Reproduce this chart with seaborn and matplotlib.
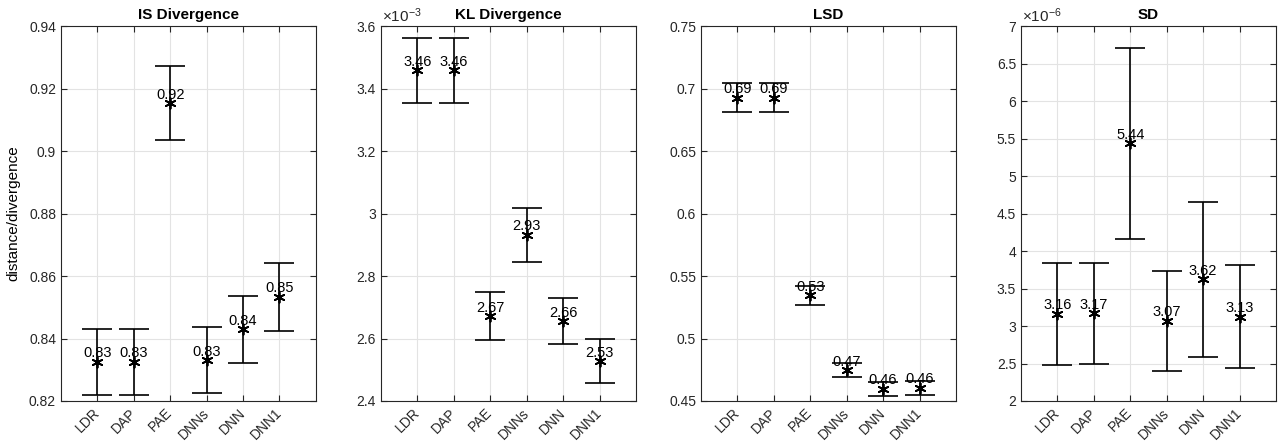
import numpy as np
import matplotlib
matplotlib.use('Agg')
import matplotlib.pyplot as plt
import matplotlib.ticker as mticker
import seaborn as sns

# Data
methods = ['LDR', 'DAP', 'PAE', 'DNNs', 'DNN', 'DNN1']

is_mean = [0.8326, 0.8326, 0.9153, 0.8331, 0.8429, 0.8534]
is_err = [0.0106, 0.0106, 0.0118, 0.0107, 0.0107, 0.0109]

kl_mean = [3.459e-3, 3.459e-3, 2.672e-3, 2.932e-3, 2.656e-3, 2.528e-3]
kl_err = [0.104e-3, 0.104e-3, 0.076e-3, 0.087e-3, 0.075e-3, 0.071e-3]

lsd_mean = [0.6927, 0.6927, 0.5345, 0.4745, 0.4596, 0.4607]
lsd_err = [0.0116, 0.0116, 0.0079, 0.0057, 0.0055, 0.0056]

sd_mean = [3.164e-6, 3.169e-6, 5.436e-6, 3.071e-6, 3.622e-6, 3.126e-6]
sd_err = [0.678e-6, 0.676e-6, 1.276e-6, 0.667e-6, 1.036e-6, 0.682e-6]

panels = [
    ('IS Divergence', is_mean, is_err, 1, (0.82, 0.94), 0.02),
    ('KL Divergence', kl_mean, kl_err, 1e-3, (2.4e-3, 3.6e-3), 0.2e-3),
    ('LSD', lsd_mean, lsd_err, 1, (0.45, 0.75), 0.05),
    ('SD', sd_mean, sd_err, 1e-6, (2e-6, 7e-6), 0.5e-6),
]

sns.set_theme(style='white')
plt.rcParams['font.family'] = ['Liberation Sans', 'DejaVu Sans']
plt.rcParams['mathtext.fontset'] = 'custom'
plt.rcParams['mathtext.rm'] = 'Liberation Sans'
plt.rcParams['mathtext.it'] = 'Liberation Sans'

grey = '#262626'
fig = plt.figure(figsize=(12.78, 4.42), dpi=100)

for i, (title, mean, err, scale, ylim, step) in enumerate(panels):
    ax = fig.add_axes([0.0477 + i * 0.2504, 0.0928, 0.1995, 0.848])
    x = np.arange(len(methods))
    ax.errorbar(x, mean, yerr=err, fmt='none', ecolor='black', elinewidth=1.2,
                capsize=11, capthick=1.2, zorder=3)
    sns.scatterplot(x=x, y=mean, marker=(6, 2, 0), color='black', s=55,
                    linewidth=1.3, edgecolor='black', ax=ax, zorder=4)
    for xi, m in zip(x, mean):
        ax.text(xi, m + (ylim[1] - ylim[0]) * 0.004, f'{m / scale:.2f}',
                ha='center', va='bottom', fontsize=10.5, color='black', zorder=5)

    ax.set_xlim(-1, 6)
    ax.set_ylim(*ylim)
    ax.set_xticks(x)
    ax.set_xticklabels(methods, rotation=45, ha='right', va='center',
                       rotation_mode='anchor')
    ax.yaxis.set_major_locator(mticker.MultipleLocator(step))
    if scale != 1:
        ax.yaxis.set_major_formatter(
            mticker.FuncFormatter(lambda v, p, s=scale: f'{v / s:g}'))
        exp = int(round(np.log10(scale)))
        ax.text(0.005, 1.004, r'$\times10^{%d}$' % exp, transform=ax.transAxes,
                ha='left', va='bottom', fontsize=11, color=grey)
    else:
        ax.yaxis.set_major_formatter(mticker.FuncFormatter(lambda v, p: f'{v:g}'))

    ax.grid(True, color='#e3e3e3', linewidth=0.8)
    ax.set_axisbelow(True)
    for sp in ax.spines.values():
        sp.set_color(grey)
        sp.set_linewidth(0.8)
    ax.tick_params(axis='both', which='both', direction='in', length=4,
                   colors=grey, labelsize=10, top=True, right=True,
                   bottom=True, left=True, width=0.8)
    ax.tick_params(axis='x', pad=7)
    ax.set_title(title, fontsize=11, fontweight='bold', color='black', pad=5)
    if i == 0:
        ax.set_ylabel('distance/divergence', fontsize=11, color='black',
                      labelpad=6)

fig.savefig('out.png', dpi=100)
